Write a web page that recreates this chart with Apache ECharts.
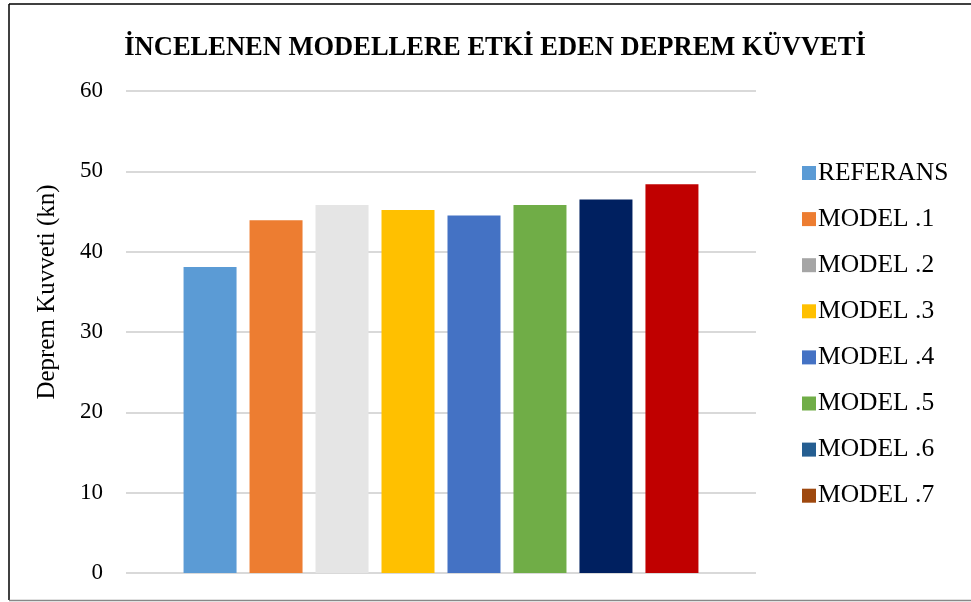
<!DOCTYPE html>
<html>
<head>
<meta charset="utf-8">
<script src="https://cdn.jsdelivr.net/npm/echarts@6/dist/echarts.min.js"></script>
<style>
  html, body { margin: 0; padding: 0; background: #fff; }
  #chart { width: 971px; height: 602px; }
</style>
</head>
<body>
<div id="chart"></div>
<script>
// Earthquake force acting on each studied model (kN)
const seriesNames = ['REFERANS', 'MODEL .1', 'MODEL .2', 'MODEL .3', 'MODEL .4', 'MODEL .5', 'MODEL .6', 'MODEL .7'];
const forceValues = [38.1, 43.9, 45.8, 45.2, 44.5, 45.8, 46.5, 48.4];
const barColors = ['#5B9BD5', '#ED7D31', '#E5E5E5', '#FFC000', '#4472C4', '#70AD47', '#002060', '#C00000'];
const legendColors = ['#5B9BD5', '#ED7D31', '#A5A5A5', '#FFC000', '#4472C4', '#70AD47', '#255E91', '#9E480E'];
const categories = [''];
const yTicks = { min: 0, max: 60, interval: 10 };

const serif = '"Liberation Serif", "Times New Roman", serif';

const chart = echarts.init(document.getElementById('chart'), null, { renderer: 'canvas' });

const series = seriesNames.map((name, i) => ({
  name: name,
  type: 'bar',
  data: [forceValues[i]],
  barWidth: 53,
  barGap: '24.5%',
  itemStyle: { color: barColors[i] },
  emphasis: { disabled: true }
}));

chart.setOption({
  animation: false,
  backgroundColor: '#fff',
  title: {
    text: 'İNCELENEN MODELLERE ETKİ EDEN DEPREM KÜVVETİ',
    left: 490,
    textAlign: 'center',
    top: 30,
    textStyle: { fontFamily: serif, fontWeight: 'bold', fontSize: 26.5, color: '#000' }
  },
  legend: {
    orient: 'vertical',
    left: 797,
    top: 155,
    icon: 'rect',
    itemWidth: 14,
    itemHeight: 14,
    itemGap: 20.1,
    textStyle: { fontFamily: serif, fontSize: 25.5, color: '#000', lineHeight: 25, padding: [0, 0, 0, -3] },
    data: seriesNames.map((n, i) => ({ name: n, itemStyle: { color: legendColors[i] } }))
  },
  grid: { left: 126, right: 215, top: 91, bottom: 29 },
  xAxis: {
    type: 'category',
    data: categories,
    axisLine: { show: false },
    axisTick: { show: false },
    axisLabel: { show: false }
  },
  yAxis: {
    type: 'value',
    min: yTicks.min,
    max: yTicks.max,
    interval: yTicks.interval,
    name: 'Deprem Kuvveti (kn)',
    nameLocation: 'middle',
    nameGap: 66,
    nameTextStyle: { fontFamily: serif, fontSize: 25, color: '#000', padding: [0, 0, 0, 80] },
    axisLine: { show: false },
    axisTick: { show: false },
    axisLabel: { fontFamily: serif, fontSize: 23, color: '#000', margin: 23 },
    splitLine: { lineStyle: { color: '#D9D9D9', width: 2 } }
  },
  series: series,
  graphic: [
    { type: 'line', shape: { x1: 9, y1: 4, x2: 9, y2: 600 }, style: { stroke: '#000', lineWidth: 1.5 } },
    { type: 'line', shape: { x1: 9, y1: 4, x2: 971, y2: 4 }, style: { stroke: '#000', lineWidth: 1.5 } },
    { type: 'line', shape: { x1: 9, y1: 600.5, x2: 971, y2: 600.5 }, style: { stroke: '#888', lineWidth: 1.5 } }
  ]
});
</script>
</body>
</html>
